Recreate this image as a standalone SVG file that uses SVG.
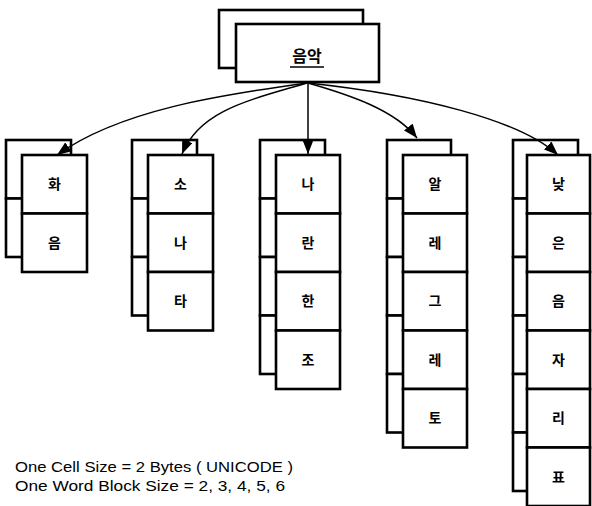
<svg xmlns="http://www.w3.org/2000/svg" width="592" height="506" viewBox="0 0 592 506">
<defs>
<style>
.bk{fill:#fff;stroke:#000;stroke-width:2.6}
.fr{fill:#fff;stroke:#000;stroke-width:2.6}
.ko{font-family:"Noto Sans CJK KR","Noto Sans",sans-serif;font-size:14px;font-weight:bold;text-anchor:middle;fill:#000}
.cn{fill:none;stroke:#000;stroke-width:1.5}
.nt{font-family:"Liberation Sans",Arial,sans-serif;font-size:15px;fill:#000}
</style>
<marker id="ah" viewBox="0 0 14 11" refX="14" refY="5.5" markerWidth="14" markerHeight="11" markerUnits="userSpaceOnUse" orient="auto">
<path d="M0,0 L14,5.5 L0,11 Z" fill="#000"/>
</marker>
</defs>
<rect width="592" height="506" fill="#fff"/>

<g id="root">
<rect class="bk" x="219" y="10" width="144" height="58"/>
<rect class="fr" x="236" y="24" width="143" height="58"/>
<text class="ko" x="307" y="62" style="font-size:16px">음악</text>
<line x1="290" y1="67" x2="324" y2="67" stroke="#000" stroke-width="1.4"/>
</g>

<g id="col1">
<rect class="bk" x="6" y="140" width="65" height="58.5"/>
<rect class="bk" x="6" y="198.5" width="65" height="58.5"/>
<rect class="fr" x="22" y="155" width="65" height="58.5"/>
<rect class="fr" x="22" y="213.5" width="65" height="58.5"/>
<text class="ko" x="54.5" y="189">화</text>
<text class="ko" x="54.5" y="247.5">음</text>
</g>

<g id="col2">
<rect class="bk" x="132" y="140" width="65" height="58.5"/>
<rect class="bk" x="132" y="198.5" width="65" height="58.5"/>
<rect class="bk" x="132" y="257" width="65" height="58.5"/>
<rect class="fr" x="148" y="155" width="65" height="58.5"/>
<rect class="fr" x="148" y="213.5" width="65" height="58.5"/>
<rect class="fr" x="148" y="272" width="65" height="58.5"/>
<text class="ko" x="180.5" y="189">소</text>
<text class="ko" x="180.5" y="247.5">나</text>
<text class="ko" x="180.5" y="306">타</text>
</g>

<g id="col3">
<rect class="bk" x="260" y="140" width="65" height="58.5"/>
<rect class="bk" x="260" y="198.5" width="65" height="58.5"/>
<rect class="bk" x="260" y="257" width="65" height="58.5"/>
<rect class="bk" x="260" y="315.5" width="65" height="58.5"/>
<rect class="fr" x="276" y="155" width="64" height="58.5"/>
<rect class="fr" x="276" y="213.5" width="64" height="58.5"/>
<rect class="fr" x="276" y="272" width="64" height="58.5"/>
<rect class="fr" x="276" y="330.5" width="64" height="58.5"/>
<text class="ko" x="308" y="189">나</text>
<text class="ko" x="308" y="247.5">란</text>
<text class="ko" x="308" y="306">한</text>
<text class="ko" x="308" y="364.5">조</text>
</g>

<g id="col4">
<rect class="bk" x="387" y="140" width="64" height="58.5"/>
<rect class="bk" x="387" y="198.5" width="64" height="58.5"/>
<rect class="bk" x="387" y="257" width="64" height="58.5"/>
<rect class="bk" x="387" y="315.5" width="64" height="58.5"/>
<rect class="bk" x="387" y="374" width="64" height="58.5"/>
<rect class="fr" x="403" y="155" width="64" height="58.5"/>
<rect class="fr" x="403" y="213.5" width="64" height="58.5"/>
<rect class="fr" x="403" y="272" width="64" height="58.5"/>
<rect class="fr" x="403" y="330.5" width="64" height="58.5"/>
<rect class="fr" x="403" y="389" width="64" height="58.5"/>
<text class="ko" x="435" y="189">알</text>
<text class="ko" x="435" y="247.5">레</text>
<text class="ko" x="435" y="306">그</text>
<text class="ko" x="435" y="364.5">레</text>
<text class="ko" x="435" y="423">토</text>
</g>

<g id="col5">
<rect class="bk" x="513" y="140" width="65" height="58.5"/>
<rect class="bk" x="513" y="198.5" width="65" height="58.5"/>
<rect class="bk" x="513" y="257" width="65" height="58.5"/>
<rect class="bk" x="513" y="315.5" width="65" height="58.5"/>
<rect class="bk" x="513" y="374" width="65" height="58.5"/>
<rect class="bk" x="513" y="432.5" width="65" height="58.5"/>
<rect class="fr" x="527" y="155" width="63" height="58.5"/>
<rect class="fr" x="527" y="213.5" width="63" height="58.5"/>
<rect class="fr" x="527" y="272" width="63" height="58.5"/>
<rect class="fr" x="527" y="330.5" width="63" height="58.5"/>
<rect class="fr" x="527" y="389" width="63" height="58.5"/>
<rect class="fr" x="527" y="447.5" width="63" height="58.5"/>
<text class="ko" x="558.5" y="189">낮</text>
<text class="ko" x="558.5" y="247.5">은</text>
<text class="ko" x="558.5" y="306">음</text>
<text class="ko" x="558.5" y="364.5">자</text>
<text class="ko" x="558.5" y="423">리</text>
<text class="ko" x="558.5" y="481.5">표</text>
</g>

<g id="connectors">
<path class="cn" d="M307,83 C220,95 120,110 57,155" marker-end="url(#ah)"/>
<path class="cn" d="M307,83 C250,100 200,110 182,154" marker-end="url(#ah)"/>
<path class="cn" d="M308,83 L308,154" marker-end="url(#ah)"/>
<path class="cn" d="M308,83 C350,95 395,110 417,138" marker-end="url(#ah)"/>
<path class="cn" d="M308,83 C420,95 520,120 558,155" marker-end="url(#ah)"/>
</g>

<g id="notes">
<text class="nt" x="15" y="472" textLength="278" lengthAdjust="spacingAndGlyphs">One Cell Size = 2 Bytes ( UNICODE )</text>
<text class="nt" x="15" y="491" textLength="270" lengthAdjust="spacingAndGlyphs">One Word Block Size = 2, 3, 4, 5, 6</text>
</g>
</svg>
